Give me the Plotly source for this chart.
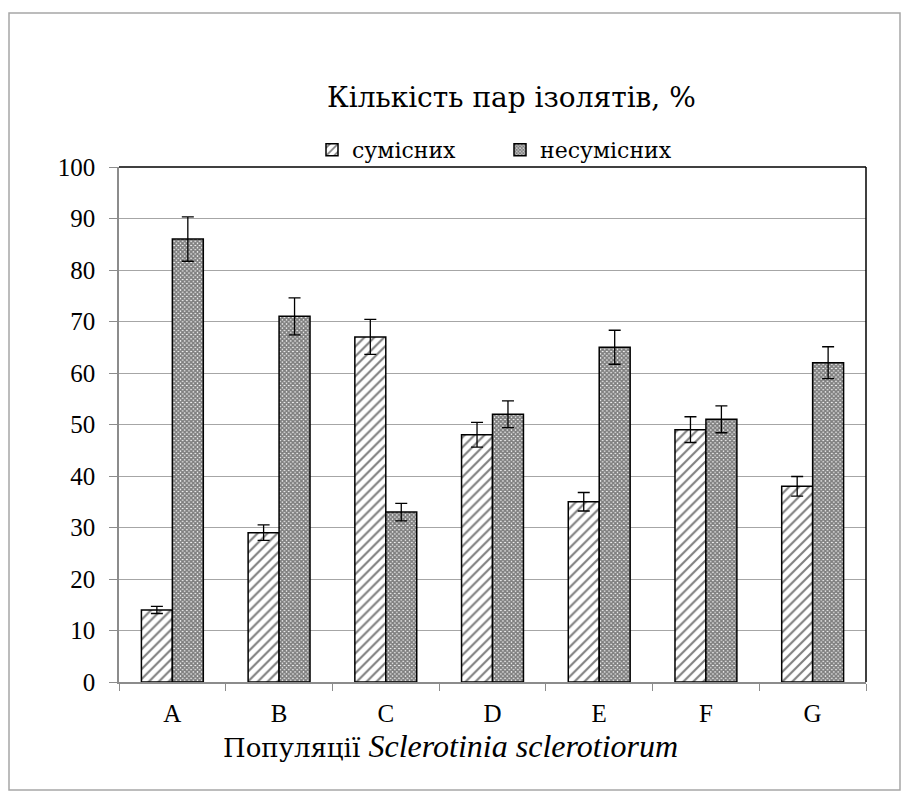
import plotly.graph_objects as go

categories = ["A", "B", "C", "D", "E", "F", "G"]
compatible = [14, 29, 67, 48, 35, 49, 38]
incompatible = [86, 71, 33, 52, 65, 51, 62]
compatible_err = [0.7, 1.5, 3.4, 2.4, 1.8, 2.5, 1.9]
incompatible_err = [4.3, 3.6, 1.7, 2.6, 3.3, 2.6, 3.1]
y_ticks = [0, 10, 20, 30, 40, 50, 60, 70, 80, 90, 100]

FONT = "Liberation Serif"
FONT_CYR = "DejaVu Serif"

OFF = 8  # page body margin
W, H = 895, 783
L, R, T, B = 119 - OFF, 866 - OFF, 167 - OFF, 682 - OFF


def px_x(x):
    return (x - OFF - L) / (R - L)


def px_y(y):
    return (B - (y - OFF)) / (B - T)


fig = go.Figure()
fig.add_trace(go.Bar(
    x=categories, y=compatible, name="сумісних",
    marker=dict(color="white", line=dict(color="black", width=1.5),
                pattern=dict(shape="/", fgcolor="black", bgcolor="white",
                             size=7, solidity=0.3)),
    error_y=dict(type="data", array=compatible_err, color="black",
                 thickness=1.3, width=6),
))
fig.add_trace(go.Bar(
    x=categories, y=incompatible, name="несумісних",
    marker=dict(color="white", line=dict(color="black", width=1.5),
                pattern=dict(shape="x", fgcolor="black", bgcolor="white",
                             size=3, solidity=0.8)),
    error_y=dict(type="data", array=incompatible_err, color="black",
                 thickness=1.3, width=6),
))

fig.update_layout(
    width=W, height=H,
    margin=dict(l=L, r=W - R, t=T, b=H - B),
    paper_bgcolor="white", plot_bgcolor="white",
    font=dict(family=FONT, color="black", size=25),
    barmode="group", bargap=0.42, bargroupgap=0,
    showlegend=True,
    legend=dict(orientation="h", x=px_x(500), xanchor="center",
                y=px_y(150), yanchor="middle", bgcolor="rgba(0,0,0,0)",
                font=dict(family=FONT_CYR, size=22, color="black"),
                entrywidth=143, itemwidth=30, traceorder="normal"),
    xaxis=dict(type="category", showline=True, linecolor="#8c8c8c", linewidth=1.5,
               ticks="outside", tickson="boundaries", ticklen=7, tickcolor="#8c8c8c",
               tickwidth=1.3, showgrid=False, ticklabelstandoff=8,
               tickfont=dict(family=FONT, size=25, color="black")),
    yaxis=dict(range=[0, 100], tickvals=y_ticks, showline=True, linecolor="#8c8c8c",
               linewidth=1.5, ticks="outside", ticklen=8, tickcolor="#8c8c8c",
               tickwidth=1.3, showgrid=True, gridcolor="#a6a6a6", gridwidth=1.3,
               zeroline=False, ticklabelstandoff=9,
               tickfont=dict(family=FONT, size=25, color="black")),
)

# plot area top/right border
fig.add_shape(type="line", xref="paper", yref="paper", x0=0, x1=1, y0=1, y1=1,
              line=dict(color="black", width=1.5))
fig.add_shape(type="line", xref="paper", yref="paper", x0=1, x1=1, y0=0, y1=1,
              line=dict(color="black", width=1.5))
# outer chart border
fig.add_shape(type="rect", xref="paper", yref="paper",
              x0=px_x(9), x1=px_x(900), y0=px_y(790), y1=px_y(13),
              line=dict(color="#a6a6a6", width=1.5))

fig.add_annotation(text="Кількість пар ізолятів, %", xref="paper", yref="paper",
                   x=px_x(511), y=px_y(98), xanchor="center", yanchor="middle",
                   showarrow=False, font=dict(family=FONT_CYR, size=28, color="black"))
fig.add_annotation(
    text="Популяції <span style=\"font-family:'Liberation Serif';font-size:32px\">"
         "<i>Sclerotinia sclerotiorum</i></span>",
    xref="paper", yref="paper",
    x=px_x(450), y=px_y(746), xanchor="center", yanchor="middle",
    showarrow=False, font=dict(family=FONT_CYR, size=26, color="black"))

fig.write_html("out.html")
